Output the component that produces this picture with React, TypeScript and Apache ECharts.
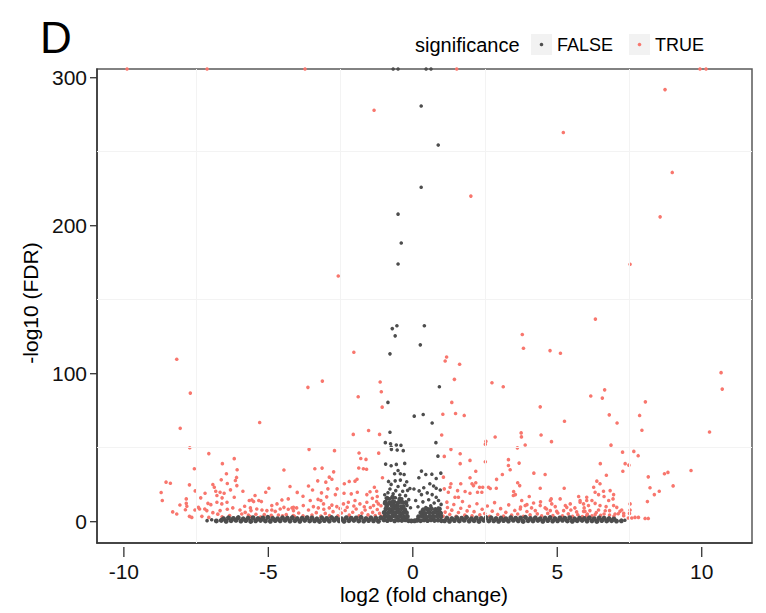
import React, { useEffect, useRef } from 'react';
import * as echarts from 'echarts';

const FONT = '"Liberation Sans", Arial, Helvetica, sans-serif';
const RED = '#F8766D';
const GRAY = '#4D4D4D';

const X_TICKS = [-10, -5, 0, 5, 10];
const Y_TICKS = [0, 100, 200, 300];
const X_MINOR = [-7.5, -2.5, 2.5, 7.5];
const Y_MINOR = [50, 150, 250];
const X_RANGE = [-10.93, 11.74];
const Y_RANGE = [-14.4, 305.9];

// points with FDR = 0 (-log10 = Inf) drawn at the panel top
const redCapped = [[-9.89, 305.9], [-7.12, 305.9], [-3.73, 305.9], [1.52, 305.9], [9.94, 305.9], [10.15, 305.9]];
const grayCapped = [[-0.68, 305.9], [-0.51, 305.9], [0.46, 305.9], [0.63, 305.9]];

const grayOutliers = [
  [0.29, 280.9], [0.88, 254.5], [0.29, 226], [-0.51, 207.8], [-0.4, 188.3], [-0.51, 174.1],
  [-0.71, 130.5], [-0.55, 132.4], [-0.61, 125.6], [0.4, 132.4], [0.26, 119.5], [-0.79, 113.4],
  [0.92, 91.2], [-0.86, 80.6], [0.05, 71.3], [0.36, 72.4], [0.67, 66.7], [-0.79, 60.4],
  [0.8, 53.4], [-0.95, 53.4], [-0.77, 52.7], [-0.75, 50.4], [-0.57, 51.8], [-0.41, 51.6],
  [-0.74, 48.9], [-0.54, 48.4], [-0.33, 48.0], [0.87, 44.3],
  [-0.94, 38.9], [-0.75, 37.8], [-0.57, 38.7], [-0.28, 39.4], [-0.51, 34.6], [-0.63, 32.4], [-0.43, 32.4], [-0.3, 31.9],
  [0.3, 34.2], [0.45, 31.9], [0.66, 32.1], [0.21, 29.7], [0.97, 32.8], [0.81, 29.2],
];

const grayMid = [
  [-0.84, 27.2], [-0.61, 27.6], [-0.43, 28.1], [-0.21, 27.0], [-0.75, 25.2], [-0.51, 23.8], [-0.28, 24.6], [-0.1, 22.4],
  [-0.79, 22.1], [-0.59, 21.0], [-0.35, 20.6], [-0.18, 21.2], [0.04, 22.1], [-0.86, 19.6], [-0.97, 18.2], [-0.68, 18.8],
  [-0.45, 18.0], [-0.25, 17.6], [-0.92, 16.0], [-0.8, 15.4], [-0.6, 16.2], [-0.38, 15.5], [-0.14, 14.9], [-0.7, 13.8],
  [-0.5, 13.2], [-0.3, 12.8], [-0.98, 12.4], [-0.86, 11.8], [-0.62, 11.2], [-0.42, 10.6], [-0.2, 11.0], [-0.08, 9.4],
  [0.59, 25.6], [0.81, 22.6], [0.3, 18.3], [0.5, 19.5], [0.67, 18.3], [0.1, 14.3], [0.81, 16.5], [0.89, 14.3],
  [0.95, 21.4], [0.72, 24.1], [0.38, 22.9], [0.22, 20.8], [0.55, 14.8], [0.74, 12.6], [0.35, 13.4], [0.98, 11.7],
  [0.62, 10.8], [0.45, 9.6], [0.88, 9.2], [0.18, 10.1],
];

const grayCore = [
  [-1.0, 1.2], [-0.88, 0.8], [-0.76, 1.4], [-0.63, 0.6], [-0.5, 1.1], [-0.38, 0.9], [-0.26, 1.3], [-0.15, 0.7], [-0.05, 0.5], [0.06, 0.6],
  [-0.96, 3.6], [-0.83, 3.2], [-0.7, 3.9], [-0.57, 3.4], [-0.44, 3.7], [-0.31, 3.1], [-0.19, 3.5],
  [-0.99, 6.2], [-0.86, 5.8], [-0.73, 6.4], [-0.6, 6.0], [-0.48, 6.3], [-0.35, 5.7], [-0.22, 6.1],
  [-0.93, 8.7], [-0.8, 8.3], [-0.67, 8.9], [-0.54, 8.5], [-0.4, 8.8], [-0.28, 8.1],
  [-0.9, 10.6], [-0.72, 11.0], [-0.55, 10.3], [-0.33, 10.2],
  [-0.95, 13.2], [-0.8, 12.8], [-0.66, 13.5], [-0.52, 12.6], [-0.38, 13.3], [-0.24, 12.9],
  [-0.88, 15.8], [-0.7, 16.5], [-0.45, 15.2],
  [0.15, 1.0], [0.27, 0.7], [0.39, 1.2], [0.51, 0.8], [0.63, 1.3], [0.75, 0.9], [0.87, 1.1], [0.99, 0.7],
  [0.2, 3.4], [0.33, 3.8], [0.46, 3.2], [0.59, 3.6], [0.72, 3.3], [0.85, 3.9], [0.97, 3.5],
  [0.28, 6.1], [0.42, 5.6], [0.56, 6.3], [0.7, 5.9], [0.84, 6.2], [0.96, 5.7],
  [0.5, 8.4], [0.64, 8.8], [0.78, 8.2], [0.92, 8.6], [0.36, 8.0],
];

const grayBandLeft = [
  [-6.8, 0.5], [-6.63, 0.9], [-6.46, 0.3], [-6.29, 0.7], [-6.12, 1.0], [-5.95, 0.4], [-5.78, 0.8], [-5.61, 0.2], [-5.44, 0.6],
  [-5.27, 0.9], [-5.1, 0.5], [-4.93, 0.3], [-4.76, 0.8], [-4.59, 0.6], [-4.42, 1.0], [-4.25, 0.4], [-4.08, 0.7], [-3.91, 0.3],
  [-3.74, 0.9], [-3.57, 0.5], [-3.4, 0.6], [-3.23, 0.2], [-3.06, 0.8], [-2.89, 0.4], [-2.72, 1.0], [-2.55, 0.6], [-2.38, 0.3],
  [-2.21, 0.7], [-2.04, 0.9], [-1.87, 0.5], [-1.7, 0.4], [-1.53, 0.8], [-1.36, 0.6], [-1.19, 0.3],
  [-6.55, 2.0], [-6.38, 2.6], [-6.21, 2.2], [-6.04, 2.8], [-5.87, 1.9], [-5.7, 2.4], [-5.53, 2.7], [-5.36, 2.1], [-5.19, 2.5],
  [-5.02, 2.9], [-4.85, 2.2], [-4.68, 2.0], [-4.51, 2.6], [-4.34, 2.4], [-4.17, 2.8], [-4.0, 2.1], [-3.83, 2.3], [-3.66, 2.7],
  [-3.49, 2.5], [-3.32, 1.9], [-3.15, 2.6], [-2.98, 2.2], [-2.81, 2.8], [-2.64, 2.4], [-2.47, 2.0], [-2.3, 2.7], [-2.13, 2.3],
  [-1.96, 2.5], [-1.79, 2.9], [-1.62, 2.1], [-1.45, 2.6], [-1.28, 2.4], [-1.11, 2.8],
];

const grayBandRight = [
  [1.1, 0.6], [1.27, 0.3], [1.44, 0.8], [1.61, 0.5], [1.78, 1.0], [1.95, 0.4], [2.12, 0.7], [2.29, 0.2], [2.46, 0.9], [2.63, 0.5],
  [2.8, 0.6], [2.97, 0.3], [3.14, 0.8], [3.31, 0.4], [3.48, 1.0], [3.65, 0.6], [3.82, 0.2], [3.99, 0.7], [4.16, 0.5], [4.33, 0.9],
  [4.5, 0.3], [4.67, 0.8], [4.84, 0.4], [5.01, 0.6], [5.18, 1.0], [5.35, 0.5], [5.52, 0.3], [5.69, 0.7], [5.86, 0.9], [6.03, 0.4],
  [6.2, 0.6], [6.37, 0.2], [6.54, 0.8], [6.71, 0.5], [6.88, 0.7], [7.05, 0.4], [7.22, 0.6],
  [1.18, 2.4], [1.35, 2.1], [1.52, 2.7], [1.69, 2.3], [1.86, 2.9], [2.03, 2.0], [2.2, 2.5], [2.37, 2.2], [2.54, 2.8], [2.71, 2.6],
  [2.88, 2.1], [3.05, 2.4], [3.22, 2.0], [3.39, 2.7], [3.56, 2.3], [3.73, 2.5], [3.9, 2.9], [4.07, 2.2], [4.24, 2.6], [4.41, 2.0],
  [4.58, 2.4], [4.75, 2.8], [4.92, 2.1], [5.09, 2.5], [5.26, 2.3], [5.43, 2.7], [5.6, 1.9], [5.77, 2.4], [5.94, 2.2], [6.11, 2.6],
  [6.28, 2.0], [6.45, 2.5], [6.62, 2.3], [6.79, 2.1], [6.96, 1.8],
];

const grayEnds = [[-7.12, 0.7], [-6.96, 1.3], [7.34, 1.0]];

const redHigh = [
  [-1.34, 278], [5.21, 263], [8.73, 292], [2.01, 220], [8.98, 236], [8.56, 206], [7.52, 174], [-2.58, 166],
  [6.32, 136.9], [3.79, 126.5], [3.83, 117.2], [4.75, 115.6], [5.11, 113.8], [1.17, 111.3], [1.12, 108.6], [1.62, 106.4],
  [1.44, 96.2], [2.74, 93.9], [3.13, 91.2], [10.67, 100.7], [10.71, 89.6], [6.16, 84.9], [6.64, 89.1], [6.56, 83.5],
  [1.35, 80.6], [8.05, 81], [4.41, 77.6], [1.04, 72.6], [1.48, 73.1], [1.78, 71.8], [7.85, 71.8], [6.8, 72.2],
  [5.25, 67.9], [7.07, 66.7], [7.93, 61.8], [10.27, 60.6], [1.0, 58.6],
  [-8.17, 109.8], [-7.7, 86.9], [-8.05, 63.1], [-5.3, 67], [-3.63, 90.8], [-3.13, 95], [-2.04, 114.5], [-1.89, 84.4],
  [-2.06, 59], [-1.53, 61.6], [-1.13, 94.4], [-1.09, 87.8], [-1.06, 77.4], [-1.15, 59],
];

const redLeft = [
  [-7.72, 50], [-7.56, 35.8], [-8.54, 26.7], [-8.39, 26], [-8.71, 19.7], [-8.67, 14.3], [-7.73, 24.9], [-7.53, 20.8],
  [-7.84, 15.4], [-8.06, 11.3], [-7.82, 10.4], [-7.87, 8.1], [-7.84, 12.4],
  [-8.31, 6.6], [-8.17, 5.2], [-7.73, 3.6], [-7.65, 2.9], [-7.3, 3.6], [-7.13, 7.5], [-6.92, 6.1], [-6.67, 7.5],
  [-6.42, 8.4], [-6.23, 9.3], [-7.09, 12.4], [-7.38, 8.6], [-7.54, 7.9],
  [-7.06, 46], [-6.59, 39.2], [-6.45, 32.4], [-6.18, 42.6], [-6.08, 35.1], [-6.14, 27.8], [-6.09, 24.4],
  [-6.31, 21.5], [-6.1, 29.9],
  [-6.92, 25.1], [-6.87, 23.3], [-6.82, 20.6], [-6.67, 19.9], [-6.53, 19.2], [-6.6, 16.1], [-6.43, 13.1], [-6.61, 12], [-6.78, 13.1],
  [-6.63, 28.3], [-6.42, 25.8], [-6.78, 17.7], [-6.18, 16.5],
  [-7.34, 16.1], [-7.19, 19.2], [-7.2, 8.6], [-6.99, 11.5], [-7.42, 9.7], [-7.06, 2.9],
  [-5.88, 20.6], [-5.66, 14.3], [-5.51, 13.6], [-5.33, 14.3], [-5.24, 13.6], [-5.82, 10.4], [-5.62, 9.3],
  [-5.98, 7.9], [-5.8, 6.3], [-5.6, 7.5], [-5.4, 8.6], [-5.22, 7.9], [-5.05, 7.5], [-4.88, 7.9], [-4.76, 7], [-4.59, 8.6],
  [-4.46, 9.7], [-4.31, 8.4], [-4.13, 7.5], [-4.02, 9.3],
  [-5.92, 5.2], [-5.69, 4.5], [-5.43, 5], [-5.14, 4.8], [-4.9, 4.3], [-4.65, 4.5], [-4.38, 4.8], [-4.14, 4.2],
  [-5.63, 3.4], [-5.27, 3.2], [-4.87, 3.5], [-4.51, 3.9], [-4.1, 3.6], [-3.95, 5.9], [-3.8, 3.9], [-3.64, 2.9],
  [-6.34, 4.2], [-6.6, 3.3], [-6.75, 5.1],
  [-5.57, 14.7], [-5.46, 17.7], [-4.88, 10.9], [-4.7, 12], [-4.53, 14.7], [-4.31, 15.4], [-4.13, 9.7],
  [-5.09, 19.9], [-4.98, 22.6], [-4.46, 34.9], [-4.25, 23.8],
  [-4.0, 19.8], [-3.8, 17.2], [-3.61, 24.1], [-3.47, 21.4], [-3.29, 27.6],
  [-3.59, 48.9], [-3.39, 35.8], [-3.14, 36.2], [-2.71, 48], [-2.74, 33.7],
  [-2.89, 30.1], [-2.8, 28.7], [-3.01, 26.7],
  [-3.16, 19.5], [-2.94, 22.2], [-2.62, 22.2], [-2.37, 25.6], [-2.2, 27.2], [-2.0, 27.4], [-1.93, 28.7], [-1.33, 23.3],
  [-1.25, 20.6], [-1.05, 29.7], [-3.18, 14.3],
  [-1.86, 46.4], [-1.18, 46.3], [-1.8, 42.7], [-1.62, 42.1], [-1.87, 36.3], [-1.71, 35.8], [-1.6, 35.4],
  [-4.18, 9.3], [-3.79, 10.9], [-3.61, 7.9], [-3.44, 10.2], [-3.27, 9.3], [-3.09, 12], [-2.89, 9.3], [-2.63, 10.2],
  [-2.4, 12], [-2.23, 13.1], [-2.0, 14.3], [-1.83, 12], [-1.59, 13.1], [-1.36, 10.9], [-1.19, 12],
  [-3.55, 14.3], [-3.28, 15.1], [-2.98, 16.8], [-2.68, 18.3], [-2.38, 19.2], [-2.13, 18.8], [-1.92, 19.9], [-1.59, 18.3],
  [-1.48, 20.2], [-1.23, 17],
  [-3.49, 4.5], [-3.34, 6.1], [-3.18, 3.8], [-3.03, 5.6], [-2.88, 4.2], [-2.76, 6.8], [-2.59, 3.9], [-2.47, 5.9],
  [-2.34, 7.6], [-2.2, 4.4], [-2.08, 6.4], [-1.96, 8.6], [-1.86, 3.9], [-1.76, 5.8], [-1.65, 7.9], [-1.55, 4.6],
  [-1.47, 9.6], [-1.39, 6.3], [-1.3, 4.1], [-1.23, 8.2], [-1.15, 5.6], [-1.08, 3.7], [-1.1, 10.8], [-1.25, 13.6],
  [-1.4, 15.8], [-1.68, 10.1], [-2.04, 10.6], [-2.27, 9.8], [-2.52, 8.9], [-2.8, 11.2], [-3.08, 8.4],
];

const redRight = [
  [1.09, 44.1], [1.32, 48.9], [1.64, 45.9], [1.64, 39.2], [1.98, 41.4],
  [2.18, 34.1], [1.98, 29.7], [2.05, 25.6], [2.1, 24.4], [1.66, 25.6], [1.32, 25.6], [1.29, 23.3], [1.06, 30.1], [1.09, 22.2],
  [2.53, 54.3], [2.51, 52.3], [2.85, 57.2],
  [2.51, 40.5], [3.1, 31.9], [2.9, 28.6],
  [2.62, 23.3], [2.68, 22.4], [2.39, 19.9], [2.31, 23.3], [2.24, 19.9], [1.98, 19.2], [1.81, 20.4], [1.55, 21],
  [1.58, 16.5], [1.23, 19.9], [1.46, 16.5],
  [3.31, 41.9], [3.31, 38], [3.37, 35.1],
  [3.75, 60], [3.76, 57.3], [3.89, 51.8], [3.62, 49.9], [3.68, 39.6],
  [3.63, 26.3], [3.7, 24.4], [3.77, 14.3], [3.48, 17.7], [4.03, 17], [4.19, 32.8], [4.41, 22.6], [4.58, 31.9],
  [4.42, 13.4], [4.24, 7.5], [4.11, 9.3], [3.89, 10.9],
  [4.44, 58.6], [4.8, 54.1], [5.24, 22.6],
  [4.41, 10.9], [4.58, 9.3], [4.76, 14.3], [4.93, 10.2], [5.1, 15.4], [5.28, 10.9], [5.45, 12], [5.61, 9.3],
  [5.79, 13.1], [5.93, 9.3], [6.02, 14.3], [4.76, 7.5], [4.98, 7], [5.22, 7.5], [5.47, 7.9], [5.67, 6.6], [5.91, 7],
  [2.18, 26.3], [2.42, 23.3], [2.89, 22.6], [3.49, 20.4], [3.55, 18.3], [4.79, 15.4], [5.74, 17],
  [6.86, 51.7], [7.26, 47], [7.65, 47.5], [7.8, 44.6], [6.49, 39.2], [7.35, 39.2], [7.48, 38.2], [7.27, 34.1],
  [6.7, 31.4], [8.15, 30.3], [8.71, 32.4], [8.83, 33.3], [9.63, 34.6], [9.01, 24.2], [8.21, 22.9], [8.36, 18.3],
  [8.53, 20.6], [8.12, 13.6],
  [6.37, 27.4], [6.48, 25.6], [6.26, 23.3], [6.31, 19.9], [6.43, 18.3], [6.6, 20.6], [6.62, 17], [6.83, 21],
  [6.95, 18.3], [6.93, 15.4], [6.2, 14.3], [5.91, 12], [6.08, 10.9], [6.31, 12.4], [6.48, 10.9], [6.69, 10.2],
  [6.81, 7.5], [6.43, 7.9], [6.13, 7.5], [5.96, 7], [6.95, 10.9], [7.06, 9.7], [7.17, 7], [7.23, 7.9], [7.52, 12],
  [7.52, 7.9], [7.5, 5.6], [7.3, 5.6], [7.0, 5.2], [6.62, 5.2], [6.31, 4.8], [6.02, 4.1], [7.69, 2.9], [7.81, 2.9],
  [8.04, 2.2], [8.15, 2.2], [7.46, 2.5], [7.58, 2.5],
  [5.79, 14.3], [6.02, 16.5], [6.78, 14.3], [5.33, 9.7], [4.81, 12], [4.63, 8.6], [3.95, 11.5], [3.72, 8.6],
  [1.05, 3.8], [1.12, 6.5], [1.2, 9.6], [1.18, 13.2], [1.28, 4.9], [1.35, 7.8], [1.42, 11.6], [1.5, 3.6], [1.58, 6.2],
  [1.66, 9.1], [1.72, 13.6], [1.8, 4.4], [1.88, 7.3], [1.96, 10.4], [2.05, 3.9], [2.12, 6.8], [2.22, 12.1], [2.32, 4.6],
  [2.4, 8.4], [2.49, 5.5], [2.58, 10.6], [2.66, 3.7], [2.75, 7.1], [2.83, 12.9], [2.94, 4.9], [3.04, 8.8], [3.14, 3.8],
  [3.22, 6.3], [3.32, 11.4], [3.42, 4.4], [3.53, 7.6], [3.63, 5.2], [3.73, 9.9], [3.83, 3.7], [3.95, 6.9], [4.06, 4.6],
  [4.18, 12.6], [4.31, 5.3], [4.46, 3.9], [4.67, 5.6], [4.85, 4.1], [5.02, 5.9], [5.18, 4.0], [5.38, 5.3], [5.53, 3.6],
  [5.71, 4.7], [5.87, 3.5], [6.04, 5.1], [6.2, 3.9], [6.35, 6.2], [6.5, 4.3], [6.66, 7.4], [6.81, 4.5], [6.96, 3.6],
  [7.11, 5.4], [7.3, 4.0],
];

const GRID = { left: 97, right: 14, top: 69, bottom: 70 };
const W = 766;
const H = 613;

export default function App() {
  const ref = useRef<HTMLDivElement>(null);

  useEffect(() => {
    if (!ref.current) return;
    const chart = echarts.init(ref.current, null, { renderer: 'svg' });
    const pointSeries = (name: string, data: number[][], color: string, size: number, z: number) => ({
      type: 'scatter',
      name,
      data,
      symbol: 'circle',
      symbolSize: size,
      itemStyle: { color, opacity: 1 },
      silent: true,
      z,
    });
    // tick marks drawn with custom series, positioned by the axes' scales
    const tickSeries = (kind: 'x' | 'y') => ({
      type: 'custom',
      name: kind + 'ticks',
      silent: true,
      clip: false,
      z: 10,
      data: kind === 'x' ? X_TICKS.map((v) => [v, Y_RANGE[0]]) : Y_TICKS.map((v) => [X_RANGE[0], v]),
      renderItem: (params: any, api: any) => {
        const p = api.coord([api.value(0), api.value(1)]);
        const shape = kind === 'x'
          ? { x1: p[0], y1: p[1] + 4, x2: p[0], y2: p[1] + 14 }
          : { x1: p[0] - 7, y1: p[1], x2: p[0], y2: p[1] };
        return { type: 'line', shape, style: { stroke: '#333', lineWidth: 1.3 } };
      },
    });
    chart.setOption({
      animation: false,
      backgroundColor: '#ffffff',
      textStyle: { fontFamily: FONT },
      grid: {
        ...GRID,
        show: true, borderColor: '#5a5a5a', borderWidth: 1.5, backgroundColor: 'transparent',
      },
      xAxis: {
        type: 'value', min: X_RANGE[0], max: X_RANGE[1], position: 'bottom',
        axisLine: { show: true, onZero: false, lineStyle: { color: '#333', width: 1.5 } },
        axisTick: { show: false },
        axisLabel: { customValues: X_TICKS, fontSize: 21, color: '#111', margin: 18, fontFamily: FONT },
        splitLine: { show: false },
      },
      yAxis: {
        type: 'value', min: Y_RANGE[0], max: Y_RANGE[1], position: 'left',
        axisLine: { show: true, onZero: false, lineStyle: { color: '#333', width: 1.5 } },
        axisTick: { show: false },
        axisLabel: { customValues: Y_TICKS, fontSize: 21, color: '#111', margin: 10, fontFamily: FONT },
        splitLine: { show: false },
      },
      graphic: [
        { id: 'title', type: 'text', x: 40, y: 37, style: { text: 'D', fontSize: 44, fontFamily: FONT, fill: '#000', verticalAlign: 'middle' } },
        { id: 'legTitle', type: 'text', x: 415, y: 44.5, style: { text: 'significance', fontSize: 20, fontFamily: FONT, fill: '#000', verticalAlign: 'middle' } },
        { id: 'k1', type: 'rect', shape: { x: 531, y: 34, width: 21, height: 21 }, style: { fill: '#F2F2F2' } },
        { id: 'd1', type: 'circle', shape: { cx: 541.5, cy: 44.5, r: 1.8 }, style: { fill: GRAY } },
        { id: 't1', type: 'text', x: 557, y: 44.5, style: { text: 'FALSE', fontSize: 18, fontFamily: FONT, fill: '#000', verticalAlign: 'middle' } },
        { id: 'k2', type: 'rect', shape: { x: 629, y: 34, width: 21, height: 21 }, style: { fill: '#F2F2F2' } },
        { id: 'd2', type: 'circle', shape: { cx: 639.5, cy: 44.5, r: 1.8 }, style: { fill: RED } },
        { id: 't2', type: 'text', x: 655, y: 44.5, style: { text: 'TRUE', fontSize: 18, fontFamily: FONT, fill: '#000', verticalAlign: 'middle' } },
        { id: 'xName', type: 'text', x: 424, y: 594, style: { text: 'log2 (fold change)', fontSize: 21, fontFamily: FONT, fill: '#000', align: 'center', verticalAlign: 'middle' } },
        { id: 'yName', type: 'text', x: 30, y: 303, rotation: Math.PI / 2, style: { text: '-log10 (FDR)', fontSize: 21, fontFamily: FONT, fill: '#000', align: 'center', verticalAlign: 'middle' } },
      ],
      series: [
        {
          type: 'scatter', name: 'grid', data: [], silent: true, z: 1,
          markLine: {
            silent: true, symbol: ['none', 'none'], label: { show: false }, animation: false,
            lineStyle: { color: '#F3F3F3', width: 1, type: 'solid' },
            data: [...X_MINOR.map((v) => ({ xAxis: v })), ...Y_MINOR.map((v) => ({ yAxis: v }))],
          },
        },
        pointSeries('TRUE', redLeft, RED, 3.6, 2),
        pointSeries('TRUE', redRight, RED, 3.6, 2),
        pointSeries('TRUE', redHigh, RED, 3.6, 2),
        pointSeries('TRUE', redCapped, RED, 3.6, 2),
        pointSeries('FALSE', grayBandLeft, GRAY, 5, 3),
        pointSeries('FALSE', grayBandRight, GRAY, 5, 3),
        pointSeries('FALSE', grayCore, GRAY, 5, 3),
        pointSeries('FALSE', grayMid, GRAY, 3.6, 3),
        pointSeries('FALSE', grayOutliers, GRAY, 3.6, 3),
        pointSeries('FALSE', grayEnds, GRAY, 3.6, 3),
        pointSeries('FALSE', grayCapped, GRAY, 3.6, 3),
        tickSeries('x'),
        tickSeries('y'),
      ],
    });

    return () => chart.dispose();
  }, []);

  return (
    <div
      ref={ref}
      style={{ position: 'fixed', left: 0, top: 0, width: W, height: H, background: '#ffffff' }}
    />
  );
}
